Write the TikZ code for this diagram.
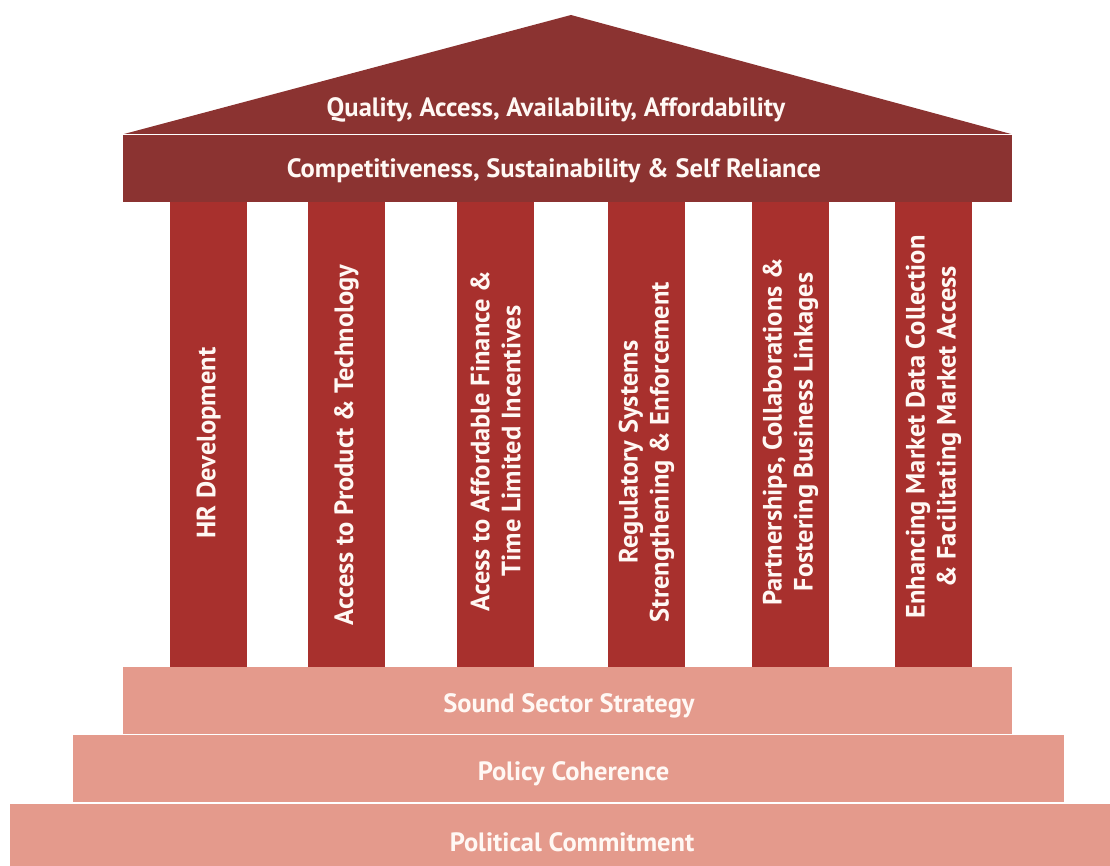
\documentclass[tikz,border=0pt]{standalone}
\usepackage{fontspec}
\setmainfont{PT Sans}
\definecolor{roofc}{HTML}{8B3331}
\definecolor{colc}{HTML}{A8302D}
\definecolor{stepc}{HTML}{E49A8C}
\definecolor{txtc}{HTML}{FFF8F4}
\begin{document}
\begin{tikzpicture}[x=1pt,y=-1pt,
  lbl/.style={text=txtc,font=\fontsize{26.5}{31}\selectfont\bfseries,inner sep=0pt},
  vlbl/.style={lbl,rotate=90,align=center},
  pillar/.style={fill=colc},
  stepbox/.style={fill=stepc}]
\useasboundingbox (0,0) rectangle (1110,866);
% roof
\fill[roofc] (124,134) -- (571,15) -- (1011,134) -- cycle;
\fill[roofc] (123,135.2) rectangle (1012,201.6);
% columns
\foreach \x in {170,308,457,608,752,895}
  \fill[pillar] (\x,201.6) rectangle ++(77,465.4);
% steps
\fill[stepbox] (123,667) rectangle (1012,733.6);
\fill[stepbox] (73,735) rectangle (1064,801.6);
\fill[stepbox] (10,803.5) rectangle (1110,866);
% texts
\node[lbl] (roof) at (556,110) {Quality, Access, Availability, Affordability};
\node[lbl] (beam) at (554,171) {Competitiveness, Sustainability \& Self Reliance};
\node[vlbl] (c1) at (208.5,443) {HR Development};
\node[vlbl] (c2) at (346.5,445) {Access to Product \& Technology};
\node[vlbl] (c3) at (495.5,441) {Acess to Affordable Finance \&\\Time Limited Incentives};
\node[vlbl] (c4) at (646.5,452) {Regulatory Systems\\Strengthening \& Enforcement};
\node[vlbl] (c5) at (790.5,432) {Partnerships, Collaborations \&\\Fostering Business Linkages};
\node[vlbl] (c6) at (933.5,427) {Enhancing Market Data Collection\\\& Facilitating Market Access};
\node[lbl] (s1) at (569,706) {Sound Sector Strategy};
\node[lbl] (s2) at (573.5,774) {Policy Coherence};
\node[lbl] (s3) at (572,842) {Political Commitment};
\end{tikzpicture}
\end{document}
